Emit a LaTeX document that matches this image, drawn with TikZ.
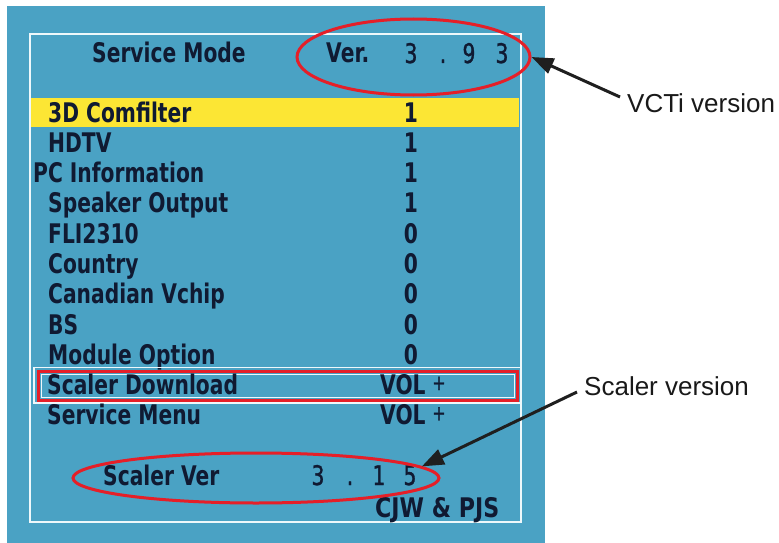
\documentclass[tikz,border=0pt]{standalone}
\usepackage{fontspec}
\setmainfont{Liberation Sans}
\newfontfamily\osd{DejaVu Sans}[FakeStretch=0.75]
\newfontfamily\osdmid{DejaVu Sans}[FakeStretch=0.75,FakeBold=1.2]
\newfontfamily\osdwide{DejaVu Sans}[FakeStretch=0.82]
\usetikzlibrary{arrows.meta,shapes.geometric}
\definecolor{osdblue}{HTML}{4AA2C4}
\definecolor{osdyellow}{HTML}{FCE634}
\definecolor{osdink}{HTML}{101A32}
\definecolor{markred}{HTML}{E51F28}
\definecolor{framewhite}{HTML}{EEF8FB}
\begin{document}
\begin{tikzpicture}[x=1pt,y=-1pt,
  osdtext/.style={inner sep=0pt, font=\osd\bfseries\fontsize{27}{27}\selectfont, text=osdink, anchor=base west},
  osdval/.style={osdtext, anchor=base},
  osdthin/.style={inner sep=0pt, font=\osdmid\fontsize{27}{27}\selectfont, text=osdink, anchor=base},
  osdplus/.style={inner sep=0pt, font=\osdmid\fontsize{21}{21}\selectfont, text=osdink, anchor=base},
  callout/.style={inner sep=0pt, font=\fontsize{26}{26}\selectfont, anchor=base west, text=black!90},
  ring/.style={draw=markred, line width=3pt, ellipse, inner sep=0pt},
  arr/.style={line width=3pt, draw=black!88, -{Triangle[length=22pt,width=16pt]}}]
\useasboundingbox (0,0) rectangle (779,543);
% panel
\fill[osdblue] (7,6) rectangle (545,543);
\fill[osdyellow] (31,97.5) rectangle (519,126.5);
\draw[framewhite, line width=2.2pt] (30,34) rectangle (521,522);
% header
\node[osdtext] (title) at (92,63) {Service Mode};
\node[osdtext] (ver) at (326,63) {Ver.};
\node[osdthin] (v1) at (411,63) {3};
\node[osdthin] (v2) at (443,63) {.};
\node[osdthin] (v3) at (469,63) {9};
\node[osdthin] (v4) at (502,63) {3};
% rows
\node[osdtext] (r0) at (48,122) {3D Comfilter};
\node[osdval] (c0) at (411,122) {1};
\node[osdtext] (r1) at (48,152.3) {HDTV};
\node[osdval] (c1) at (411,152.3) {1};
\node[osdtext] (r2) at (33,182.6) {PC Information};
\node[osdval] (c2) at (411,182.6) {1};
\node[osdtext] (r3) at (48,212.9) {Speaker Output};
\node[osdval] (c3) at (411,212.9) {1};
\node[osdtext] (r4) at (48,243.2) {FLI2310};
\node[osdval] (c4) at (411,243.2) {0};
\node[osdtext] (r5) at (48,273.5) {Country};
\node[osdval] (c5) at (411,273.5) {0};
\node[osdtext] (r6) at (48,303.8) {Canadian Vchip};
\node[osdval] (c6) at (411,303.8) {0};
\node[osdtext] (r7) at (48,334.1) {BS};
\node[osdval] (c7) at (411,334.1) {0};
\node[osdtext] (r8) at (48,364.4) {Module Option};
\node[osdval] (c8) at (411,364.4) {0};
% highlighted row
\draw[framewhite, line width=1.3pt] (34,367.5) rectangle (521,403);
\draw[markred, line width=3pt] (38.5,371) rectangle (517,400);
\draw[framewhite, line width=0.8pt] (41.5,374) rectangle (514,397);
\node[osdtext] (r9) at (47,394.2) {Scaler Download};
\node[osdtext] (c9) at (380,394.2) {VOL};
\node[osdplus] (p9) at (439,390) {+};
\node[osdtext] (r10) at (47,424.5) {Service Menu};
\node[osdtext] (c10) at (380,424.5) {VOL};
\node[osdplus] (p10) at (439,420.3) {+};
% footer
\node[osdtext] (sv) at (103,485) {Scaler Ver};
\node[osdthin] (s1) at (318,485) {3};
\node[osdthin] (s2) at (350,485) {.};
\node[osdthin] (s3) at (379,485) {1};
\node[osdthin] (s4) at (410,485) {5};
\node[osdtext, font=\osdwide\bfseries\fontsize{27}{27}\selectfont] (sig) at (375,517) {CJW \& PJS};
% rings
\node[ring, minimum width=233pt, minimum height=76pt] (e1) at (413.5,57) {};
\node[ring, minimum width=366pt, minimum height=50pt] (e2) at (256,478) {};
% callouts
\node[callout] (vl) at (627,112) {VCTi version};
\node[callout] (sl) at (584,395.5) {Scaler version};
\coordinate (vt) at (620,97);
\coordinate (st) at (577,392);
\draw[arr] (vt) -- (e1.east);
\draw[arr] (st) -- (e2.4);
\end{tikzpicture}
\end{document}
